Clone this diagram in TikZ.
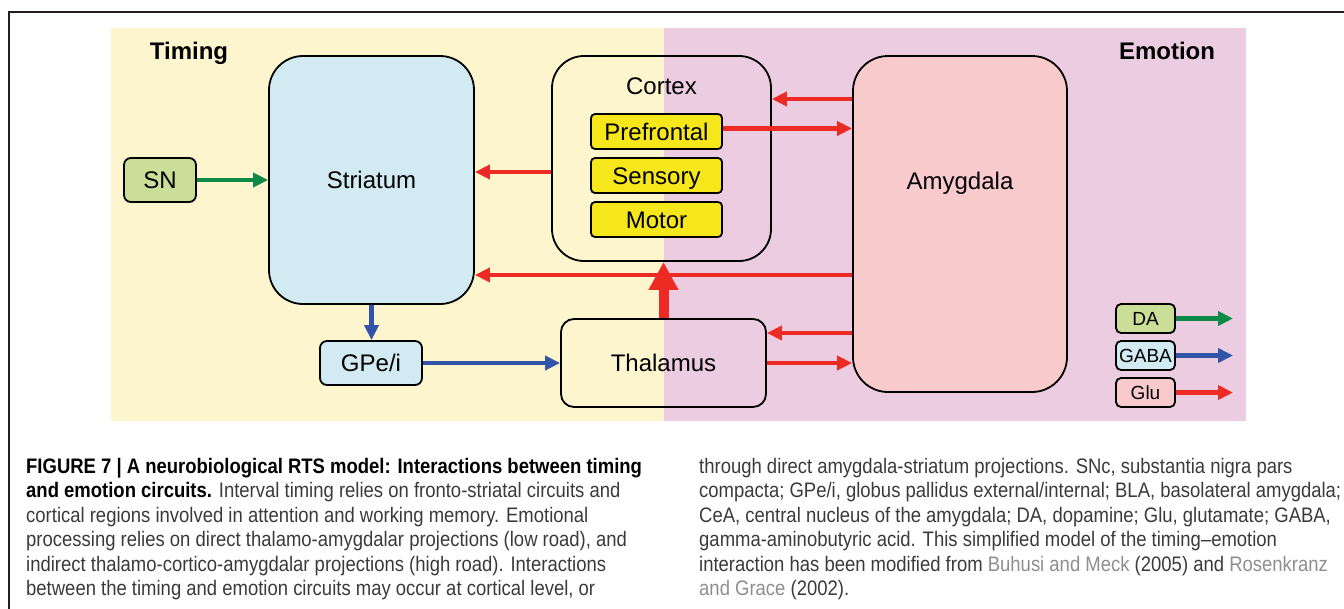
\documentclass[tikz,border=0pt]{standalone}
\usepackage{fontspec}
\setmainfont{Liberation Sans}
\newfontfamily\capfont[FakeStretch=0.88]{Liberation Sans}
\usetikzlibrary{arrows.meta}
\definecolor{bgyellow}{HTML}{FDF5CD}
\definecolor{bgpink}{HTML}{ECCCE1}
\definecolor{blueFill}{HTML}{D2EAF2}
\definecolor{greenFill}{HTML}{CBDE98}
\definecolor{yellowFill}{HTML}{F6E71A}
\definecolor{pinkFill}{HTML}{F8CACB}
\definecolor{glucol}{HTML}{EE2A24}
\definecolor{dacol}{HTML}{0E8A47}
\definecolor{gabacol}{HTML}{3254A8}
\definecolor{captext}{HTML}{3A3A3A}
\definecolor{citegrey}{HTML}{8E8E8E}
\definecolor{framecol}{HTML}{231F20}
\begin{document}
\begin{tikzpicture}[x=1pt,y=-1pt,
  box/.style={draw=black, line width=1.8pt, inner sep=0pt, text height=17pt, text depth=0pt, font=\fontsize{24}{28}\selectfont},
  lbl/.style={inner sep=0pt, text height=17pt, text depth=0pt, font=\fontsize{24}{28}\selectfont},
  legbox/.style={box, rounded corners=5pt, minimum width=59pt, minimum height=29pt, text height=13.6pt, font=\fontsize{19}{22}\selectfont},
  subbox/.style={box, fill=yellowFill, rounded corners=4pt, minimum width=131pt, minimum height=35pt},
  glutip/.style={line width=4.5pt, glucol, -{Triangle[length=15pt,width=14pt]}},
  gabatip/.style={line width=4.5pt, gabacol, -{Triangle[length=15pt,width=14pt]}},
  datip/.style={line width=4.5pt, dacol, -{Triangle[length=15pt,width=14pt]}},
  bigtip/.style={line width=10pt, glucol, -{Triangle[length=28pt,width=28pt]}},
  capline/.style={anchor=base west, inner sep=0pt, text=captext, font=\capfont\fontsize{21}{24}\selectfont}
]
\useasboundingbox (0,0) rectangle (1344,608);
% backgrounds
\fill[bgyellow] (111,28) rectangle (664,421);
\fill[bgpink] (664,28) rectangle (1246,421);
\draw[framecol, line width=2.6pt] (9,620) -- (9,12) -- (1360,12);

% titles
\node[lbl, font=\bfseries\fontsize{24}{28}\selectfont] (timing) at (189,51) {Timing};
\node[lbl, font=\bfseries\fontsize{24}{28}\selectfont] (emotion) at (1167,51) {Emotion};

% boxes
\node[box, fill=blueFill, rounded corners=34pt, minimum width=205pt, minimum height=248pt] (str) at (371.5,180) {Striatum};
\node[box, fill=greenFill, rounded corners=7pt, minimum width=72pt, minimum height=44pt] (sn) at (160,180) {SN};
\node[box, rounded corners=32pt, minimum width=219pt, minimum height=205pt] (ctx) at (661.5,158.5) {};
\node[lbl] (ctxlbl) at (661.5,86) {Cortex};
\node[subbox] (pre) at (656.5,131.5) {Prefrontal};
\node[subbox] (sen) at (656.5,175.5) {Sensory};
\node[subbox] (mot) at (656.5,219.5) {Motor};
\node[box, fill=pinkFill, rounded corners=35pt, minimum width=214pt, minimum height=336pt] (amy) at (960,224) {};
\node[lbl] (amylbl) at (960,181) {Amygdala};
\node[box, fill=blueFill, rounded corners=7pt, minimum width=102pt, minimum height=44pt] (gpe) at (371,363) {GPe/i};
\node[box, rounded corners=13pt, minimum width=205pt, minimum height=88pt] (thal) at (663.5,363) {Thalamus};

% legend
\node[legbox, fill=greenFill] (da) at (1145.5,318.5) {DA};
\node[legbox, fill=blueFill] (gaba) at (1145.5,355.5) {GABA};
\node[legbox, fill=pinkFill] (glu) at (1145.5,392.5) {Glu};
\coordinate (daend) at (1233,318.5);
\coordinate (gabaend) at (1233,355.5);
\coordinate (gluend) at (1233,392.5);
\draw[datip] (da.east) -- (daend);
\draw[gabatip] (gaba.east) -- (gabaend);
\draw[glutip] (glu.east) -- (gluend);

% connectors
\draw[datip] (sn.east) -- (sn.east -| str.west);
\coordinate (c1) at ([yshift=-13.5pt]ctx.west);
\draw[glutip] (c1) -- (c1 -| str.east);
\coordinate (a1) at ([yshift=-51pt]amy.west);
\draw[glutip] (a1) -- (a1 -| str.east);
\draw[bigtip] (thal.north) -- (thal.north |- ctx.south);
\coordinate (a2) at ([yshift=125pt]amy.west);
\draw[glutip] (a2) -- (a2 -| ctx.east);
\coordinate (p1) at ([yshift=3pt]pre.east);
\draw[glutip] (p1) -- (p1 -| amy.west);
\coordinate (t1) at ([yshift=30pt]thal.east);
\draw[glutip] (t1 -| amy.west) -- (t1);
\draw[glutip] (thal.east) -- (thal.east -| amy.west);
\draw[gabatip] (str.south) -- (str.south |- gpe.north);
\draw[gabatip] (gpe.east) -- (thal.west);

% caption, left column
\node[capline] (l1) at (26,473.5) {\bfseries\color{black}FIGURE 7 | A neurobiological RTS model: Interactions between timing};
\node[capline] (l2) at (26,497.9) {{\bfseries\color{black}and emotion circuits.} Interval timing relies on fronto-striatal circuits and};
\node[capline] (l3) at (26,522.3) {cortical regions involved in attention and working memory. Emotional};
\node[capline] (l4) at (26,546.7) {processing relies on direct thalamo-amygdalar projections (low road), and};
\node[capline] (l5) at (26,571.1) {indirect thalamo-cortico-amygdalar projections (high road). Interactions};
\node[capline] (l6) at (26,595.5) {between the timing and emotion circuits may occur at cortical level, or};
% caption, right column
\node[capline] (r1) at (699,473.5) {through direct amygdala-striatum projections. SNc, substantia nigra pars};
\node[capline] (r2) at (699,497.9) {compacta; GPe/i, globus pallidus external/internal; BLA, basolateral amygdala;};
\node[capline] (r3) at (699,522.3) {CeA, central nucleus of the amygdala; DA, dopamine; Glu, glutamate; GABA,};
\node[capline] (r4) at (699,546.7) {gamma-aminobutyric acid. This simplified model of the timing–emotion};
\node[capline] (r5) at (699,571.1) {interaction has been modified from {\color{citegrey}Buhusi and Meck} (2005) and {\color{citegrey}Rosenkranz}};
\node[capline] (r6) at (699,595.5) {{\color{citegrey}and Grace} (2002).};
\end{tikzpicture}
\end{document}
